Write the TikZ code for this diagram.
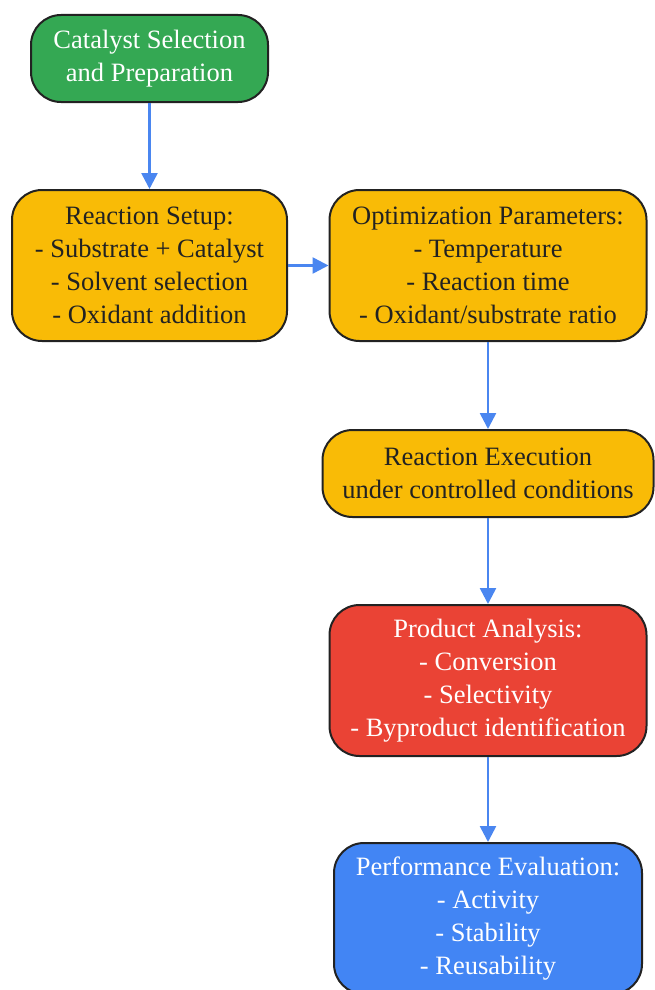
\documentclass[tikz,border=0pt]{standalone}
\usepackage{fontspec}
\setmainfont{Liberation Serif}
\usepackage{xcolor}
\usepackage{tikz}
\usetikzlibrary{arrows.meta, positioning}
\definecolor{stepgreen}{HTML}{34A853}
\definecolor{stepyellow}{HTML}{F9BB06}
\definecolor{stepred}{HTML}{EA4335}
\definecolor{stepblue}{HTML}{4285F4}
\definecolor{edgeblue}{HTML}{4A86F0}
\definecolor{borderdark}{HTML}{222222}

\begin{document}
\begin{tikzpicture}[x=1pt, y=-1pt, every node/.style={font=\fontsize{26.5}{33}\selectfont}]
    % Define styles
    \tikzstyle{box} = [rectangle, rounded corners=30pt, align=center, draw=borderdark, line width=2pt, inner sep=0pt]
    \tikzstyle{start} = [box, fill=stepgreen, text=white, minimum width=237pt, minimum height=87pt]
    \tikzstyle{process} = [box, fill=stepyellow, text=borderdark, minimum width=275pt, minimum height=151pt]
    \tikzstyle{analysis} = [box, fill=stepred, text=white, minimum width=317pt, minimum height=151pt]
    \tikzstyle{result} = [box, fill=stepblue, text=white, minimum width=308pt, minimum height=151pt]
    \tikzstyle{flow_arrow} = [line width=2.6pt, draw=edgeblue, -{Triangle[length=16pt, width=16pt, fill=edgeblue]}]

    \useasboundingbox (0,0) rectangle (654,990);

    % Left column
    \node (catalyst) [start] at (149.5, 58.5) {Catalyst Selection\\and Preparation};
    \node (setup) [process] at (149.5, 265.5) {Reaction Setup:\\- Substrate + Catalyst\\- Solvent selection\\- Oxidant addition};

    % Right column
    \node (params) [process, minimum width=317pt] at (488, 265.5) {Optimization Parameters:\\- Temperature\\- Reaction time\\- Oxidant/substrate ratio};
    \node (execution) [process, minimum width=331pt, minimum height=87pt] at (488, 473.5) {Reaction Execution\\under controlled conditions};
    \node (analysis) [analysis] at (488, 680.5) {Product Analysis:\\- Conversion\\- Selectivity\\- Byproduct identification};
    \node (evaluation) [result] at (488, 918.5) {Performance Evaluation:\\- Activity\\- Stability\\- Reusability};

    % Flow arrows
    \draw [flow_arrow] (catalyst.south) -- (setup.north);
    \draw [flow_arrow] (setup.east) -- (params.west);
    \draw [flow_arrow] (params.south) -- (execution.north);
    \draw [flow_arrow] (execution.south) -- (analysis.north);
    \draw [flow_arrow] (analysis.south) -- (evaluation.north);
\end{tikzpicture}
\end{document}
